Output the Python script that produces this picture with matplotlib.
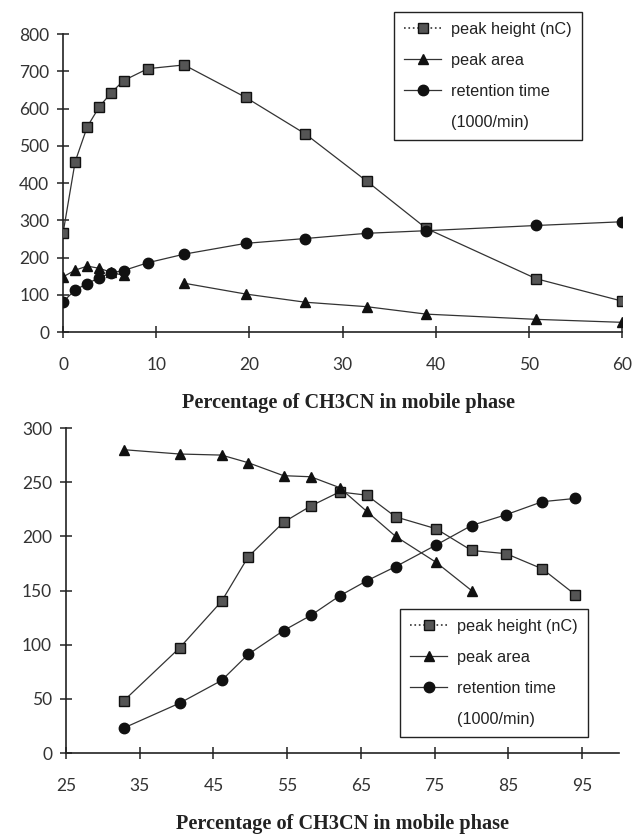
import numpy as np
import matplotlib
matplotlib.use("Agg")
import matplotlib.pyplot as plt
from matplotlib.lines import Line2D

# top panel: low % CH3CN
top_pct = [0, 1.3, 2.6, 3.9, 5.2, 6.5, 9.1, 13, 19.6, 26, 32.6, 39, 50.8, 60]
top_height = [265, 457, 551, 605, 643, 675, 707, 717, 630, 532, 405, 278, 143, 83]
top_area = [148, 166, 177, 171, 160, 152, np.nan, 131, 102, 80, 68, 48, 34, 26]
top_retention = [81, 113, 130, 146, 159, 165, 186, 209, 238, 251, 265, 272, 286, 296]

# bottom panel: high % CH3CN
bot_pct = [32.8, 40.4, 46.1, 49.7, 54.5, 58.2, 62.1, 65.8, 69.7, 75.2, 80.0, 84.7, 89.6, 94.1]
bot_height = [48, 97, 140, 181, 213, 228, 241, 238, 218, 207, 187, 184, 170, 146]
bot_area = [280, 276, 275, 268, 256, 255, 245, 223, 200, 176, 150, np.nan, np.nan, np.nan]
bot_retention = [23, 46, 67, 91, 113, 127, 145, 159, 172, 192, 210, 220, 232, 235]

top_xticks = [0, 10, 20, 30, 40, 50, 60]
top_yticks = [0, 100, 200, 300, 400, 500, 600, 700, 800]
bot_xticks = [25, 35, 45, 55, 65, 75, 85, 95]
bot_yticks = [0, 50, 100, 150, 200, 250, 300]

XLABEL = "Percentage of CH3CN in mobile phase"
LEGEND_FONT = ["Liberation Sans", "DejaVu Sans"]
TICK_FONT = ["Lato", "DejaVu Sans"]

fig = plt.figure(figsize=(6.34, 8.34), dpi=100)
ax1 = fig.add_axes([0.0994, 0.6019, 0.8817, 0.3573])
ax2 = fig.add_axes([0.1041, 0.0971, 0.8722, 0.3897])

line_kw = dict(color="#333333", linewidth=0.9)
sq_kw = dict(marker="s", markersize=7, markerfacecolor="#555555", markeredgecolor="#111111",
             markeredgewidth=1.0)
tri_kw = dict(marker="^", markersize=7.5, markerfacecolor="#111111", markeredgecolor="#111111")
circ_kw = dict(marker="o", markersize=7.5, markerfacecolor="#111111", markeredgecolor="#111111")


def style_axes(ax, xlim, ylim, xticks, yticks):
    ax.set_xlim(*xlim)
    ax.set_ylim(*ylim)
    ax.set_xticks(xticks)
    ax.set_yticks(yticks)
    for s in ("top", "right"):
        ax.spines[s].set_visible(False)
    for s in ("left", "bottom"):
        ax.spines[s].set_linewidth(1.2)
        ax.spines[s].set_color("#222222")
    ax.tick_params(direction="inout", length=8, width=1.1, color="#222222",
                   labelsize=12.5, labelcolor="#333333")
    ax.tick_params(axis="x", pad=14)
    ax.tick_params(axis="y", pad=6)
    for lab in ax.get_xticklabels() + ax.get_yticklabels():
        lab.set_family(TICK_FONT)
    ax.patch.set_alpha(0)


def add_legend(ax, anchor):
    handles = [
        Line2D([], [], linestyle=":", **{**line_kw, "linewidth": 1.2}, **sq_kw),
        Line2D([], [], **line_kw, **tri_kw),
        Line2D([], [], **line_kw, **circ_kw),
        Line2D([], [], linestyle="none", marker="none"),
    ]
    labels = ["peak height (nC)", "peak area", "retention time", "(1000/min)"]
    leg = ax.legend(handles, labels, loc="upper left", bbox_to_anchor=anchor,
                    bbox_transform=fig.transFigure, borderaxespad=0,
                    prop={"family": LEGEND_FONT, "size": 11.7},
                    frameon=True, fancybox=False, edgecolor="#222222",
                    handlelength=2.3, handletextpad=0.58, labelspacing=0.98,
                    borderpad=0.62, framealpha=1)
    leg.get_frame().set_linewidth(1.0)
    for t in leg.get_texts():
        t.set_color("#222222")
    return leg


ax1.plot(top_pct, top_height, **line_kw, **sq_kw, zorder=3)
ax1.plot(top_pct, top_area, **line_kw, **tri_kw, zorder=3)
ax1.plot(top_pct, top_retention, **line_kw, **circ_kw, zorder=3)
style_axes(ax1, (0, 60), (0, 800), top_xticks, top_yticks)
add_legend(ax1, (394 / 634, 1 - 11.7 / 834))
fig.text(348 / 634, 1 - 403 / 834, XLABEL, ha="center", va="center",
         family="Liberation Serif", fontweight="bold", fontsize=14.6, color="#222222")

ax2.plot(bot_pct, bot_height, **line_kw, **sq_kw, zorder=3)
ax2.plot(bot_pct, bot_area, **line_kw, **tri_kw, zorder=3)
ax2.plot(bot_pct, bot_retention, **line_kw, **circ_kw, zorder=3)
style_axes(ax2, (25, 100), (0, 300), bot_xticks, bot_yticks)
add_legend(ax2, (400 / 634, 1 - 609 / 834))
fig.text(343 / 634, 1 - 824 / 834, XLABEL, ha="center", va="center",
         family="Liberation Serif", fontweight="bold", fontsize=14.6, color="#222222")

fig.savefig("out.png", dpi=100, facecolor="white")
